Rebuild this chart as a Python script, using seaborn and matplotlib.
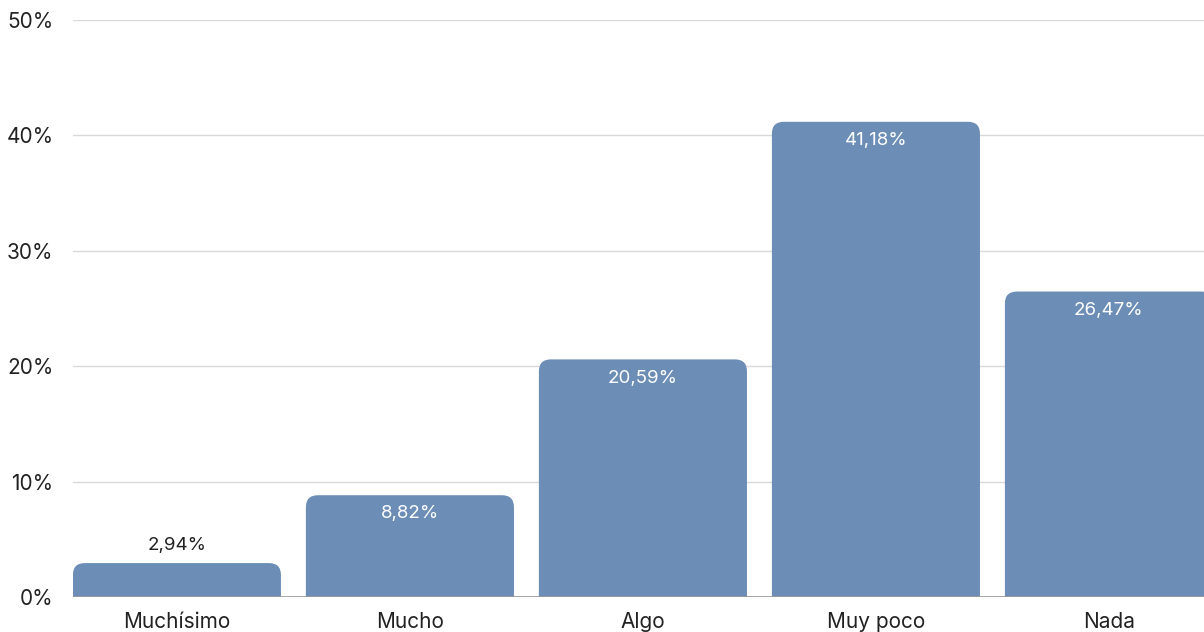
import numpy as np
import pandas as pd
import seaborn as sns
import matplotlib.pyplot as plt
import matplotlib.ticker as ticker
from matplotlib.patches import FancyBboxPatch

categories = ["Muchísimo", "Mucho", "Algo", "Muy poco", "Nada"]
values = [2.94, 8.82, 20.59, 41.18, 26.47]
value_labels = ["2,94%", "8,82%", "20,59%", "41,18%", "26,47%"]
y_ticks = [0, 10, 20, 30, 40, 50]

bar_color = "#6c8eb6"


def main():
    sns.set_style("white")
    plt.rcParams['font.family'] = ['Inter', 'DejaVu Sans']

    fig = plt.figure(figsize=(12.04, 6.32), dpi=100)
    ax = fig.add_axes([73 / 1204, 35 / 632, 1 - 73 / 1204, 577 / 632])

    df = pd.DataFrame({"cat": categories, "val": values})
    sns.barplot(data=df, x="cat", y="val", color=bar_color, width=0.893,
                saturation=1, ax=ax, zorder=3)

    ax.set_xlim(-0.446, 4.408)
    ax.set_ylim(0, 50)

    # swap the plain bars for ones with rounded top corners
    # (bottom corners fall below y=0 and get clipped by the axes)
    x_per_px = (4.408 + 0.446) / (1131)
    y_per_px = 50 / 577
    aspect = y_per_px / x_per_px
    r = 12 * x_per_px
    for p in list(ax.patches):
        x0, w, h = p.get_x(), p.get_width(), p.get_height()
        p.remove()
        ext = 14 * y_per_px
        box = FancyBboxPatch((x0, -ext), w, h + ext,
                             boxstyle=f"round,pad=0,rounding_size={r}",
                             mutation_aspect=aspect,
                             facecolor=bar_color, edgecolor="none",
                             zorder=3, clip_on=True)
        ax.add_patch(box)

    for i, (v, lab) in enumerate(zip(values, value_labels)):
        if v < 5:
            ax.annotate(lab, (i, v), xytext=(0, 13), textcoords="offset points",
                        ha="center", va="center", fontsize=13.5, color="#222222",
                        zorder=5)
        else:
            ax.annotate(lab, (i, v), xytext=(0, -13.5), textcoords="offset points",
                        ha="center", va="center", fontsize=13.5, color="white",
                        zorder=5)

    ax.yaxis.set_major_locator(ticker.FixedLocator(y_ticks))
    ax.yaxis.set_major_formatter(ticker.FuncFormatter(lambda v, _: f"{v:.0f}%"))
    ax.grid(axis="y", color="#d9d9d9", linewidth=1, zorder=0)
    ax.axhline(0, color="#999999", linewidth=1.2, zorder=4)

    for s in ax.spines.values():
        s.set_visible(False)
    ax.tick_params(axis="both", length=0, labelsize=15, colors="#222222")
    ax.tick_params(axis="y", pad=14)
    ax.tick_params(axis="x", pad=10.5)
    ax.set_xlabel("")
    ax.set_ylabel("")

    fig.savefig("out.png", dpi=100)


if __name__ == "__main__":
    main()
